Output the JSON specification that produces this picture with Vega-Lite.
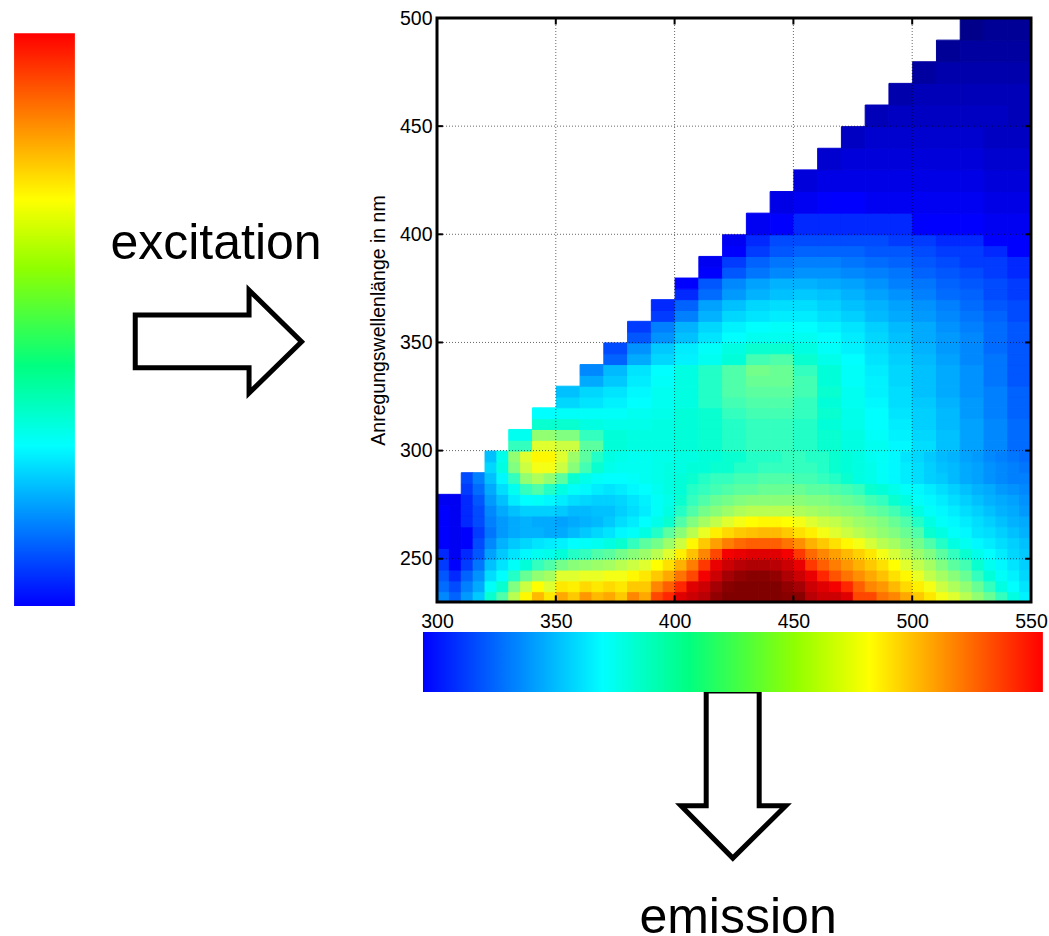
{"$schema":"https://vega.github.io/schema/vega-lite/v6.json","width":594,"height":584,"autosize":"none","padding":{"left":437,"top":18,"right":18,"bottom":334},"background":"white","config":{"view":{"stroke":null},"font":"Liberation Sans"},
"encoding":{"x":{"field":"x","type":"quantitative","scale":{"domain":[300,550],"nice":false,"zero":false},"axis":{"values":[300,350,400,450,500,550],"title":null,"grid":false,"domain":false,"ticks":false,"labelFontSize":19.5,"labelColor":"black","labelFont":"Liberation Sans","labelPadding":10,"labelFlush":false,"labelOverlap":false}},"y":{"field":"y","type":"quantitative","scale":{"domain":[230,500],"nice":false,"zero":false},"axis":{"values":[250,300,350,400,450,500],"title":"Anregungswellenlänge in nm","titleFontSize":19.5,"titleFontWeight":"normal","titleColor":"black","titleFont":"Liberation Sans","titleX":-49,"titleY":302,"grid":false,"domain":false,"ticks":false,"labelFontSize":19.5,"labelColor":"black","labelFont":"Liberation Sans","labelPadding":5,"labelFlush":false,"labelOverlap":false}}},
"layer":[
{"data":{"values":[
{"x":300,"y":230,"v":20},{"x":305,"y":230,"v":16},{"x":310,"y":230,"v":22},{"x":315,"y":230,"v":28},{"x":320,"y":230,"v":42},{"x":325,"y":230,"v":46},{"x":330,"y":230,"v":56},{"x":335,"y":230,"v":64},{"x":340,"y":230,"v":72},{"x":345,"y":230,"v":66},{"x":350,"y":230,"v":74},{"x":355,"y":230,"v":70},{"x":360,"y":230,"v":76},{"x":365,"y":230,"v":72},{"x":370,"y":230,"v":74},{"x":375,"y":230,"v":70},{"x":380,"y":230,"v":78},{"x":385,"y":230,"v":74},{"x":390,"y":230,"v":84},{"x":395,"y":230,"v":86},{"x":400,"y":230,"v":90},{"x":405,"y":230,"v":92},{"x":410,"y":230,"v":94},{"x":415,"y":230,"v":98},{"x":420,"y":230,"v":100},{"x":425,"y":230,"v":100},{"x":430,"y":230,"v":100},{"x":435,"y":230,"v":100},{"x":440,"y":230,"v":100},{"x":445,"y":230,"v":99},{"x":450,"y":230,"v":99},{"x":455,"y":230,"v":94},{"x":460,"y":230,"v":92},{"x":465,"y":230,"v":92},{"x":470,"y":230,"v":90},{"x":475,"y":230,"v":84},{"x":480,"y":230,"v":84},{"x":485,"y":230,"v":80},{"x":490,"y":230,"v":78},{"x":495,"y":230,"v":74},{"x":500,"y":230,"v":70},{"x":505,"y":230,"v":66},{"x":510,"y":230,"v":62},{"x":515,"y":230,"v":60},{"x":520,"y":230,"v":56},{"x":525,"y":230,"v":52},{"x":530,"y":230,"v":48},{"x":535,"y":230,"v":44},{"x":540,"y":230,"v":40},{"x":545,"y":230,"v":34},
{"x":300,"y":235,"v":17},{"x":305,"y":235,"v":14},{"x":310,"y":235,"v":19},{"x":315,"y":235,"v":24},{"x":320,"y":235,"v":37},{"x":325,"y":235,"v":42},{"x":330,"y":235,"v":50},{"x":335,"y":235,"v":58},{"x":340,"y":235,"v":63},{"x":345,"y":235,"v":60},{"x":350,"y":235,"v":66},{"x":355,"y":235,"v":65},{"x":360,"y":235,"v":68},{"x":365,"y":235,"v":66},{"x":370,"y":235,"v":68},{"x":375,"y":235,"v":66},{"x":380,"y":235,"v":70},{"x":385,"y":235,"v":70},{"x":390,"y":235,"v":78},{"x":395,"y":235,"v":82},{"x":400,"y":235,"v":86},{"x":405,"y":235,"v":90},{"x":410,"y":235,"v":92},{"x":415,"y":235,"v":96},{"x":420,"y":235,"v":99},{"x":425,"y":235,"v":100},{"x":430,"y":235,"v":100},{"x":435,"y":235,"v":100},{"x":440,"y":235,"v":100},{"x":445,"y":235,"v":98},{"x":450,"y":235,"v":96},{"x":455,"y":235,"v":92},{"x":460,"y":235,"v":90},{"x":465,"y":235,"v":88},{"x":470,"y":235,"v":86},{"x":475,"y":235,"v":82},{"x":480,"y":235,"v":78},{"x":485,"y":235,"v":76},{"x":490,"y":235,"v":72},{"x":495,"y":235,"v":68},{"x":500,"y":235,"v":65},{"x":505,"y":235,"v":62},{"x":510,"y":235,"v":58},{"x":515,"y":235,"v":55},{"x":520,"y":235,"v":52},{"x":525,"y":235,"v":48},{"x":530,"y":235,"v":44},{"x":535,"y":235,"v":40},{"x":540,"y":235,"v":36},{"x":545,"y":235,"v":32},
{"x":300,"y":240,"v":15},{"x":305,"y":240,"v":12},{"x":310,"y":240,"v":16},{"x":315,"y":240,"v":21},{"x":320,"y":240,"v":31},{"x":325,"y":240,"v":36},{"x":330,"y":240,"v":43},{"x":335,"y":240,"v":48},{"x":340,"y":240,"v":52},{"x":345,"y":240,"v":54},{"x":350,"y":240,"v":60},{"x":355,"y":240,"v":60},{"x":360,"y":240,"v":61},{"x":365,"y":240,"v":61},{"x":370,"y":240,"v":62},{"x":375,"y":240,"v":62},{"x":380,"y":240,"v":64},{"x":385,"y":240,"v":66},{"x":390,"y":240,"v":70},{"x":395,"y":240,"v":74},{"x":400,"y":240,"v":80},{"x":405,"y":240,"v":84},{"x":410,"y":240,"v":88},{"x":415,"y":240,"v":92},{"x":420,"y":240,"v":96},{"x":425,"y":240,"v":98},{"x":430,"y":240,"v":99},{"x":435,"y":240,"v":99},{"x":440,"y":240,"v":98},{"x":445,"y":240,"v":95},{"x":450,"y":240,"v":92},{"x":455,"y":240,"v":89},{"x":460,"y":240,"v":86},{"x":465,"y":240,"v":83},{"x":470,"y":240,"v":80},{"x":475,"y":240,"v":77},{"x":480,"y":240,"v":74},{"x":485,"y":240,"v":71},{"x":490,"y":240,"v":67},{"x":495,"y":240,"v":64},{"x":500,"y":240,"v":61},{"x":505,"y":240,"v":57},{"x":510,"y":240,"v":54},{"x":515,"y":240,"v":51},{"x":520,"y":240,"v":48},{"x":525,"y":240,"v":44},{"x":530,"y":240,"v":41},{"x":535,"y":240,"v":37},{"x":540,"y":240,"v":34},{"x":545,"y":240,"v":30},
{"x":300,"y":245,"v":13},{"x":305,"y":245,"v":11},{"x":310,"y":245,"v":13},{"x":315,"y":245,"v":18},{"x":320,"y":245,"v":27},{"x":325,"y":245,"v":32},{"x":330,"y":245,"v":37},{"x":335,"y":245,"v":41},{"x":340,"y":245,"v":44},{"x":345,"y":245,"v":46},{"x":350,"y":245,"v":49},{"x":355,"y":245,"v":51},{"x":360,"y":245,"v":52},{"x":365,"y":245,"v":53},{"x":370,"y":245,"v":54},{"x":375,"y":245,"v":56},{"x":380,"y":245,"v":58},{"x":385,"y":245,"v":60},{"x":390,"y":245,"v":63},{"x":395,"y":245,"v":67},{"x":400,"y":245,"v":73},{"x":405,"y":245,"v":79},{"x":410,"y":245,"v":85},{"x":415,"y":245,"v":89},{"x":420,"y":245,"v":92},{"x":425,"y":245,"v":94},{"x":430,"y":245,"v":95},{"x":435,"y":245,"v":95},{"x":440,"y":245,"v":94},{"x":445,"y":245,"v":92},{"x":450,"y":245,"v":89},{"x":455,"y":245,"v":85},{"x":460,"y":245,"v":82},{"x":465,"y":245,"v":79},{"x":470,"y":245,"v":76},{"x":475,"y":245,"v":73},{"x":480,"y":245,"v":70},{"x":485,"y":245,"v":67},{"x":490,"y":245,"v":63},{"x":495,"y":245,"v":60},{"x":500,"y":245,"v":57},{"x":505,"y":245,"v":54},{"x":510,"y":245,"v":50},{"x":515,"y":245,"v":47},{"x":520,"y":245,"v":45},{"x":525,"y":245,"v":42},{"x":530,"y":245,"v":38},{"x":535,"y":245,"v":35},{"x":540,"y":245,"v":32},{"x":545,"y":245,"v":29},
{"x":300,"y":250,"v":12},{"x":305,"y":250,"v":10},{"x":310,"y":250,"v":12},{"x":315,"y":250,"v":15},{"x":320,"y":250,"v":23},{"x":325,"y":250,"v":28},{"x":330,"y":250,"v":32},{"x":335,"y":250,"v":35},{"x":340,"y":250,"v":38},{"x":345,"y":250,"v":39},{"x":350,"y":250,"v":41},{"x":355,"y":250,"v":43},{"x":360,"y":250,"v":44},{"x":365,"y":250,"v":46},{"x":370,"y":250,"v":47},{"x":375,"y":250,"v":49},{"x":380,"y":250,"v":51},{"x":385,"y":250,"v":53},{"x":390,"y":250,"v":56},{"x":395,"y":250,"v":60},{"x":400,"y":250,"v":65},{"x":405,"y":250,"v":71},{"x":410,"y":250,"v":78},{"x":415,"y":250,"v":84},{"x":420,"y":250,"v":88},{"x":425,"y":250,"v":89},{"x":430,"y":250,"v":90},{"x":435,"y":250,"v":90},{"x":440,"y":250,"v":90},{"x":445,"y":250,"v":88},{"x":450,"y":250,"v":85},{"x":455,"y":250,"v":81},{"x":460,"y":250,"v":78},{"x":465,"y":250,"v":75},{"x":470,"y":250,"v":72},{"x":475,"y":250,"v":69},{"x":480,"y":250,"v":66},{"x":485,"y":250,"v":62},{"x":490,"y":250,"v":59},{"x":495,"y":250,"v":56},{"x":500,"y":250,"v":53},{"x":505,"y":250,"v":50},{"x":510,"y":250,"v":47},{"x":515,"y":250,"v":44},{"x":520,"y":250,"v":42},{"x":525,"y":250,"v":39},{"x":530,"y":250,"v":36},{"x":535,"y":250,"v":33},{"x":540,"y":250,"v":30},{"x":545,"y":250,"v":28},
{"x":300,"y":255,"v":11},{"x":305,"y":255,"v":10},{"x":310,"y":255,"v":11},{"x":315,"y":255,"v":14},{"x":320,"y":255,"v":20},{"x":325,"y":255,"v":25},{"x":330,"y":255,"v":28},{"x":335,"y":255,"v":30},{"x":340,"y":255,"v":32},{"x":345,"y":255,"v":33},{"x":350,"y":255,"v":34},{"x":355,"y":255,"v":36},{"x":360,"y":255,"v":37},{"x":365,"y":255,"v":38},{"x":370,"y":255,"v":40},{"x":375,"y":255,"v":42},{"x":380,"y":255,"v":44},{"x":385,"y":255,"v":47},{"x":390,"y":255,"v":49},{"x":395,"y":255,"v":53},{"x":400,"y":255,"v":58},{"x":405,"y":255,"v":64},{"x":410,"y":255,"v":70},{"x":415,"y":255,"v":75},{"x":420,"y":255,"v":79},{"x":425,"y":255,"v":81},{"x":430,"y":255,"v":82},{"x":435,"y":255,"v":82},{"x":440,"y":255,"v":82},{"x":445,"y":255,"v":80},{"x":450,"y":255,"v":77},{"x":455,"y":255,"v":73},{"x":460,"y":255,"v":70},{"x":465,"y":255,"v":67},{"x":470,"y":255,"v":64},{"x":475,"y":255,"v":62},{"x":480,"y":255,"v":59},{"x":485,"y":255,"v":56},{"x":490,"y":255,"v":54},{"x":495,"y":255,"v":51},{"x":500,"y":255,"v":49},{"x":505,"y":255,"v":46},{"x":510,"y":255,"v":43},{"x":515,"y":255,"v":40},{"x":520,"y":255,"v":38},{"x":525,"y":255,"v":35},{"x":530,"y":255,"v":33},{"x":535,"y":255,"v":31},{"x":540,"y":255,"v":29},{"x":545,"y":255,"v":27},
{"x":300,"y":260,"v":11},{"x":305,"y":260,"v":10},{"x":310,"y":260,"v":11},{"x":315,"y":260,"v":13},{"x":320,"y":260,"v":18},{"x":325,"y":260,"v":22},{"x":330,"y":260,"v":24},{"x":335,"y":260,"v":25},{"x":340,"y":260,"v":25},{"x":345,"y":260,"v":24},{"x":350,"y":260,"v":24},{"x":355,"y":260,"v":26},{"x":360,"y":260,"v":28},{"x":365,"y":260,"v":30},{"x":370,"y":260,"v":32},{"x":375,"y":260,"v":35},{"x":380,"y":260,"v":37},{"x":385,"y":260,"v":40},{"x":390,"y":260,"v":43},{"x":395,"y":260,"v":47},{"x":400,"y":260,"v":51},{"x":405,"y":260,"v":56},{"x":410,"y":260,"v":61},{"x":415,"y":260,"v":65},{"x":420,"y":260,"v":68},{"x":425,"y":260,"v":70},{"x":430,"y":260,"v":71},{"x":435,"y":260,"v":72},{"x":440,"y":260,"v":72},{"x":445,"y":260,"v":70},{"x":450,"y":260,"v":67},{"x":455,"y":260,"v":65},{"x":460,"y":260,"v":62},{"x":465,"y":260,"v":60},{"x":470,"y":260,"v":58},{"x":475,"y":260,"v":56},{"x":480,"y":260,"v":54},{"x":485,"y":260,"v":52},{"x":490,"y":260,"v":50},{"x":495,"y":260,"v":48},{"x":500,"y":260,"v":46},{"x":505,"y":260,"v":42},{"x":510,"y":260,"v":40},{"x":515,"y":260,"v":37},{"x":520,"y":260,"v":35},{"x":525,"y":260,"v":32},{"x":530,"y":260,"v":31},{"x":535,"y":260,"v":29},{"x":540,"y":260,"v":27},{"x":545,"y":260,"v":25},
{"x":300,"y":265,"v":11},{"x":305,"y":265,"v":10},{"x":310,"y":265,"v":12},{"x":315,"y":265,"v":14},{"x":320,"y":265,"v":19},{"x":325,"y":265,"v":22},{"x":330,"y":265,"v":24},{"x":335,"y":265,"v":25},{"x":340,"y":265,"v":24},{"x":345,"y":265,"v":24},{"x":350,"y":265,"v":23},{"x":355,"y":265,"v":24},{"x":360,"y":265,"v":25},{"x":365,"y":265,"v":26},{"x":370,"y":265,"v":28},{"x":375,"y":265,"v":31},{"x":380,"y":265,"v":33},{"x":385,"y":265,"v":36},{"x":390,"y":265,"v":39},{"x":395,"y":265,"v":42},{"x":400,"y":265,"v":46},{"x":405,"y":265,"v":50},{"x":410,"y":265,"v":54},{"x":415,"y":265,"v":57},{"x":420,"y":265,"v":60},{"x":425,"y":265,"v":62},{"x":430,"y":265,"v":63},{"x":435,"y":265,"v":64},{"x":440,"y":265,"v":64},{"x":445,"y":265,"v":63},{"x":450,"y":265,"v":62},{"x":455,"y":265,"v":60},{"x":460,"y":265,"v":58},{"x":465,"y":265,"v":57},{"x":470,"y":265,"v":55},{"x":475,"y":265,"v":53},{"x":480,"y":265,"v":52},{"x":485,"y":265,"v":50},{"x":490,"y":265,"v":48},{"x":495,"y":265,"v":46},{"x":500,"y":265,"v":43},{"x":505,"y":265,"v":40},{"x":510,"y":265,"v":37},{"x":515,"y":265,"v":35},{"x":520,"y":265,"v":33},{"x":525,"y":265,"v":31},{"x":530,"y":265,"v":29},{"x":535,"y":265,"v":27},{"x":540,"y":265,"v":25},{"x":545,"y":265,"v":24},
{"x":300,"y":270,"v":11},{"x":305,"y":270,"v":10},{"x":310,"y":270,"v":12},{"x":315,"y":270,"v":14},{"x":320,"y":270,"v":20},{"x":325,"y":270,"v":24},{"x":330,"y":270,"v":27},{"x":335,"y":270,"v":29},{"x":340,"y":270,"v":29},{"x":345,"y":270,"v":29},{"x":350,"y":270,"v":28},{"x":355,"y":270,"v":26},{"x":360,"y":270,"v":26},{"x":365,"y":270,"v":27},{"x":370,"y":270,"v":27},{"x":375,"y":270,"v":29},{"x":380,"y":270,"v":31},{"x":385,"y":270,"v":33},{"x":390,"y":270,"v":37},{"x":395,"y":270,"v":40},{"x":400,"y":270,"v":43},{"x":405,"y":270,"v":46},{"x":410,"y":270,"v":49},{"x":415,"y":270,"v":51},{"x":420,"y":270,"v":53},{"x":425,"y":270,"v":55},{"x":430,"y":270,"v":56},{"x":435,"y":270,"v":56},{"x":440,"y":270,"v":56},{"x":445,"y":270,"v":56},{"x":450,"y":270,"v":55},{"x":455,"y":270,"v":54},{"x":460,"y":270,"v":53},{"x":465,"y":270,"v":52},{"x":470,"y":270,"v":51},{"x":475,"y":270,"v":50},{"x":480,"y":270,"v":48},{"x":485,"y":270,"v":47},{"x":490,"y":270,"v":45},{"x":495,"y":270,"v":43},{"x":500,"y":270,"v":40},{"x":505,"y":270,"v":37},{"x":510,"y":270,"v":35},{"x":515,"y":270,"v":33},{"x":520,"y":270,"v":31},{"x":525,"y":270,"v":29},{"x":530,"y":270,"v":27},{"x":535,"y":270,"v":25},{"x":540,"y":270,"v":24},{"x":545,"y":270,"v":22},
{"x":300,"y":275,"v":10},{"x":305,"y":275,"v":10},{"x":310,"y":275,"v":12},{"x":315,"y":275,"v":15},{"x":320,"y":275,"v":22},{"x":325,"y":275,"v":27},{"x":330,"y":275,"v":33},{"x":335,"y":275,"v":36},{"x":340,"y":275,"v":37},{"x":345,"y":275,"v":35},{"x":350,"y":275,"v":33},{"x":355,"y":275,"v":31},{"x":360,"y":275,"v":30},{"x":365,"y":275,"v":29},{"x":370,"y":275,"v":29},{"x":375,"y":275,"v":30},{"x":380,"y":275,"v":32},{"x":385,"y":275,"v":34},{"x":390,"y":275,"v":37},{"x":395,"y":275,"v":39},{"x":400,"y":275,"v":42},{"x":405,"y":275,"v":44},{"x":410,"y":275,"v":46},{"x":415,"y":275,"v":48},{"x":420,"y":275,"v":49},{"x":425,"y":275,"v":50},{"x":430,"y":275,"v":51},{"x":435,"y":275,"v":51},{"x":440,"y":275,"v":51},{"x":445,"y":275,"v":51},{"x":450,"y":275,"v":51},{"x":455,"y":275,"v":50},{"x":460,"y":275,"v":50},{"x":465,"y":275,"v":49},{"x":470,"y":275,"v":48},{"x":475,"y":275,"v":47},{"x":480,"y":275,"v":45},{"x":485,"y":275,"v":44},{"x":490,"y":275,"v":42},{"x":495,"y":275,"v":40},{"x":500,"y":275,"v":37},{"x":505,"y":275,"v":35},{"x":510,"y":275,"v":33},{"x":515,"y":275,"v":31},{"x":520,"y":275,"v":29},{"x":525,"y":275,"v":27},{"x":530,"y":275,"v":25},{"x":535,"y":275,"v":24},{"x":540,"y":275,"v":23},{"x":545,"y":275,"v":21},
{"x":310,"y":280,"v":13},{"x":315,"y":280,"v":17},{"x":320,"y":280,"v":24},{"x":325,"y":280,"v":31},{"x":330,"y":280,"v":38},{"x":335,"y":280,"v":44},{"x":340,"y":280,"v":46},{"x":345,"y":280,"v":43},{"x":350,"y":280,"v":40},{"x":355,"y":280,"v":37},{"x":360,"y":280,"v":35},{"x":365,"y":280,"v":33},{"x":370,"y":280,"v":32},{"x":375,"y":280,"v":33},{"x":380,"y":280,"v":35},{"x":385,"y":280,"v":36},{"x":390,"y":280,"v":38},{"x":395,"y":280,"v":40},{"x":400,"y":280,"v":41},{"x":405,"y":280,"v":43},{"x":410,"y":280,"v":44},{"x":415,"y":280,"v":45},{"x":420,"y":280,"v":46},{"x":425,"y":280,"v":47},{"x":430,"y":280,"v":47},{"x":435,"y":280,"v":48},{"x":440,"y":280,"v":48},{"x":445,"y":280,"v":48},{"x":450,"y":280,"v":48},{"x":455,"y":280,"v":47},{"x":460,"y":280,"v":47},{"x":465,"y":280,"v":46},{"x":470,"y":280,"v":45},{"x":475,"y":280,"v":44},{"x":480,"y":280,"v":42},{"x":485,"y":280,"v":41},{"x":490,"y":280,"v":39},{"x":495,"y":280,"v":37},{"x":500,"y":280,"v":35},{"x":505,"y":280,"v":33},{"x":510,"y":280,"v":31},{"x":515,"y":280,"v":29},{"x":520,"y":280,"v":27},{"x":525,"y":280,"v":25},{"x":530,"y":280,"v":24},{"x":535,"y":280,"v":22},{"x":540,"y":280,"v":21},{"x":545,"y":280,"v":20},
{"x":310,"y":285,"v":14},{"x":315,"y":285,"v":19},{"x":320,"y":285,"v":27},{"x":325,"y":285,"v":35},{"x":330,"y":285,"v":44},{"x":335,"y":285,"v":52},{"x":340,"y":285,"v":55},{"x":345,"y":285,"v":52},{"x":350,"y":285,"v":47},{"x":355,"y":285,"v":42},{"x":360,"y":285,"v":39},{"x":365,"y":285,"v":37},{"x":370,"y":285,"v":36},{"x":375,"y":285,"v":36},{"x":380,"y":285,"v":37},{"x":385,"y":285,"v":38},{"x":390,"y":285,"v":39},{"x":395,"y":285,"v":40},{"x":400,"y":285,"v":41},{"x":405,"y":285,"v":42},{"x":410,"y":285,"v":43},{"x":415,"y":285,"v":44},{"x":420,"y":285,"v":44},{"x":425,"y":285,"v":45},{"x":430,"y":285,"v":45},{"x":435,"y":285,"v":46},{"x":440,"y":285,"v":46},{"x":445,"y":285,"v":46},{"x":450,"y":285,"v":45},{"x":455,"y":285,"v":45},{"x":460,"y":285,"v":44},{"x":465,"y":285,"v":43},{"x":470,"y":285,"v":42},{"x":475,"y":285,"v":40},{"x":480,"y":285,"v":39},{"x":485,"y":285,"v":37},{"x":490,"y":285,"v":35},{"x":495,"y":285,"v":33},{"x":500,"y":285,"v":31},{"x":505,"y":285,"v":29},{"x":510,"y":285,"v":28},{"x":515,"y":285,"v":26},{"x":520,"y":285,"v":24},{"x":525,"y":285,"v":23},{"x":530,"y":285,"v":21},{"x":535,"y":285,"v":20},{"x":540,"y":285,"v":19},{"x":545,"y":285,"v":19},
{"x":320,"y":290,"v":30},{"x":325,"y":290,"v":40},{"x":330,"y":290,"v":50},{"x":335,"y":290,"v":58},{"x":340,"y":290,"v":62},{"x":345,"y":290,"v":62},{"x":350,"y":290,"v":58},{"x":355,"y":290,"v":51},{"x":360,"y":290,"v":45},{"x":365,"y":290,"v":42},{"x":370,"y":290,"v":39},{"x":375,"y":290,"v":38},{"x":380,"y":290,"v":38},{"x":385,"y":290,"v":38},{"x":390,"y":290,"v":39},{"x":395,"y":290,"v":40},{"x":400,"y":290,"v":40},{"x":405,"y":290,"v":41},{"x":410,"y":290,"v":41},{"x":415,"y":290,"v":42},{"x":420,"y":290,"v":42},{"x":425,"y":290,"v":43},{"x":430,"y":290,"v":43},{"x":435,"y":290,"v":44},{"x":440,"y":290,"v":44},{"x":445,"y":290,"v":44},{"x":450,"y":290,"v":44},{"x":455,"y":290,"v":44},{"x":460,"y":290,"v":43},{"x":465,"y":290,"v":42},{"x":470,"y":290,"v":41},{"x":475,"y":290,"v":40},{"x":480,"y":290,"v":39},{"x":485,"y":290,"v":37},{"x":490,"y":290,"v":35},{"x":495,"y":290,"v":33},{"x":500,"y":290,"v":31},{"x":505,"y":290,"v":29},{"x":510,"y":290,"v":27},{"x":515,"y":290,"v":26},{"x":520,"y":290,"v":24},{"x":525,"y":290,"v":23},{"x":530,"y":290,"v":21},{"x":535,"y":290,"v":20},{"x":540,"y":290,"v":19},{"x":545,"y":290,"v":18},
{"x":320,"y":295,"v":27},{"x":325,"y":295,"v":39},{"x":330,"y":295,"v":52},{"x":335,"y":295,"v":60},{"x":340,"y":295,"v":64},{"x":345,"y":295,"v":64},{"x":350,"y":295,"v":60},{"x":355,"y":295,"v":53},{"x":360,"y":295,"v":47},{"x":365,"y":295,"v":43},{"x":370,"y":295,"v":40},{"x":375,"y":295,"v":39},{"x":380,"y":295,"v":38},{"x":385,"y":295,"v":38},{"x":390,"y":295,"v":39},{"x":395,"y":295,"v":39},{"x":400,"y":295,"v":40},{"x":405,"y":295,"v":40},{"x":410,"y":295,"v":41},{"x":415,"y":295,"v":41},{"x":420,"y":295,"v":42},{"x":425,"y":295,"v":42},{"x":430,"y":295,"v":43},{"x":435,"y":295,"v":43},{"x":440,"y":295,"v":43},{"x":445,"y":295,"v":44},{"x":450,"y":295,"v":44},{"x":455,"y":295,"v":43},{"x":460,"y":295,"v":43},{"x":465,"y":295,"v":42},{"x":470,"y":295,"v":41},{"x":475,"y":295,"v":40},{"x":480,"y":295,"v":38},{"x":485,"y":295,"v":37},{"x":490,"y":295,"v":35},{"x":495,"y":295,"v":32},{"x":500,"y":295,"v":30},{"x":505,"y":295,"v":28},{"x":510,"y":295,"v":26},{"x":515,"y":295,"v":25},{"x":520,"y":295,"v":23},{"x":525,"y":295,"v":22},{"x":530,"y":295,"v":20},{"x":535,"y":295,"v":19},{"x":540,"y":295,"v":18},{"x":545,"y":295,"v":17}
]},"mark":{"type":"rect","strokeWidth":1},"encoding":{"x":{"field":"x","type":"quantitative","bin":{"binned":true,"step":5}},"y":{"field":"y","type":"quantitative","bin":{"binned":true,"step":5}},"color":{"field":"v","type":"quantitative","legend":null,"scale":{"domain":[0,11,36,50,63,87,100],"range":["#000080","#0000ff","#00ffff","#80ff80","#ffff00","#ff0000","#800000"]}},"stroke":{"field":"v","type":"quantitative","legend":null,"scale":{"domain":[0,11,36,50,63,87,100],"range":["#000080","#0000ff","#00ffff","#80ff80","#ffff00","#ff0000","#800000"]}}}},
{"data":{"values":[
{"x":330,"y":300,"v":44},{"x":340,"y":300,"v":60},{"x":350,"y":300,"v":58},{"x":360,"y":300,"v":47},{"x":370,"y":300,"v":41},{"x":380,"y":300,"v":40},{"x":390,"y":300,"v":40},{"x":400,"y":300,"v":41},{"x":410,"y":300,"v":42},{"x":420,"y":300,"v":43},{"x":430,"y":300,"v":44},{"x":440,"y":300,"v":44},{"x":450,"y":300,"v":43},{"x":460,"y":300,"v":42},{"x":470,"y":300,"v":40},{"x":480,"y":300,"v":38},{"x":490,"y":300,"v":35},{"x":500,"y":300,"v":31},{"x":510,"y":300,"v":27},{"x":520,"y":300,"v":23},{"x":530,"y":300,"v":20},{"x":540,"y":300,"v":17},
{"x":330,"y":305,"v":38},{"x":340,"y":305,"v":52},{"x":350,"y":305,"v":50},{"x":360,"y":305,"v":44},{"x":370,"y":305,"v":41},{"x":380,"y":305,"v":40},{"x":390,"y":305,"v":40},{"x":400,"y":305,"v":41},{"x":410,"y":305,"v":42},{"x":420,"y":305,"v":43},{"x":430,"y":305,"v":44},{"x":440,"y":305,"v":44},{"x":450,"y":305,"v":43},{"x":460,"y":305,"v":42},{"x":470,"y":305,"v":40},{"x":480,"y":305,"v":37},{"x":490,"y":305,"v":34},{"x":500,"y":305,"v":30},{"x":510,"y":305,"v":27},{"x":520,"y":305,"v":23},{"x":530,"y":305,"v":20},{"x":540,"y":305,"v":17},
{"x":340,"y":310,"v":42},{"x":350,"y":310,"v":42},{"x":360,"y":310,"v":40},{"x":370,"y":310,"v":39},{"x":380,"y":310,"v":39},{"x":390,"y":310,"v":40},{"x":400,"y":310,"v":41},{"x":410,"y":310,"v":42},{"x":420,"y":310,"v":43},{"x":430,"y":310,"v":44},{"x":440,"y":310,"v":44},{"x":450,"y":310,"v":43},{"x":460,"y":310,"v":41},{"x":470,"y":310,"v":39},{"x":480,"y":310,"v":36},{"x":490,"y":310,"v":33},{"x":500,"y":310,"v":29},{"x":510,"y":310,"v":26},{"x":520,"y":310,"v":23},{"x":530,"y":310,"v":20},{"x":540,"y":310,"v":17},
{"x":340,"y":315,"v":36},{"x":350,"y":315,"v":37},{"x":360,"y":315,"v":37},{"x":370,"y":315,"v":37},{"x":380,"y":315,"v":38},{"x":390,"y":315,"v":39},{"x":400,"y":315,"v":41},{"x":410,"y":315,"v":42},{"x":420,"y":315,"v":44},{"x":430,"y":315,"v":45},{"x":440,"y":315,"v":45},{"x":450,"y":315,"v":44},{"x":460,"y":315,"v":42},{"x":470,"y":315,"v":39},{"x":480,"y":315,"v":36},{"x":490,"y":315,"v":32},{"x":500,"y":315,"v":29},{"x":510,"y":315,"v":26},{"x":520,"y":315,"v":22},{"x":530,"y":315,"v":19},{"x":540,"y":315,"v":16},
{"x":350,"y":320,"v":30},{"x":360,"y":320,"v":32},{"x":370,"y":320,"v":34},{"x":380,"y":320,"v":36},{"x":390,"y":320,"v":38},{"x":400,"y":320,"v":40},{"x":410,"y":320,"v":43},{"x":420,"y":320,"v":45},{"x":430,"y":320,"v":46},{"x":440,"y":320,"v":46},{"x":450,"y":320,"v":44},{"x":460,"y":320,"v":41},{"x":470,"y":320,"v":38},{"x":480,"y":320,"v":35},{"x":490,"y":320,"v":31},{"x":500,"y":320,"v":28},{"x":510,"y":320,"v":25},{"x":520,"y":320,"v":22},{"x":530,"y":320,"v":19},{"x":540,"y":320,"v":16},
{"x":350,"y":325,"v":27},{"x":360,"y":325,"v":30},{"x":370,"y":325,"v":32},{"x":380,"y":325,"v":35},{"x":390,"y":325,"v":38},{"x":400,"y":325,"v":40},{"x":410,"y":325,"v":43},{"x":420,"y":325,"v":46},{"x":430,"y":325,"v":47},{"x":440,"y":325,"v":47},{"x":450,"y":325,"v":45},{"x":460,"y":325,"v":42},{"x":470,"y":325,"v":38},{"x":480,"y":325,"v":34},{"x":490,"y":325,"v":31},{"x":500,"y":325,"v":27},{"x":510,"y":325,"v":24},{"x":520,"y":325,"v":21},{"x":530,"y":325,"v":19},{"x":540,"y":325,"v":16},
{"x":360,"y":330,"v":24},{"x":370,"y":330,"v":28},{"x":380,"y":330,"v":33},{"x":390,"y":330,"v":37},{"x":400,"y":330,"v":40},{"x":410,"y":330,"v":43},{"x":420,"y":330,"v":46},{"x":430,"y":330,"v":48},{"x":440,"y":330,"v":48},{"x":450,"y":330,"v":45},{"x":460,"y":330,"v":41},{"x":470,"y":330,"v":37},{"x":480,"y":330,"v":34},{"x":490,"y":330,"v":30},{"x":500,"y":330,"v":27},{"x":510,"y":330,"v":24},{"x":520,"y":330,"v":21},{"x":530,"y":330,"v":18},{"x":540,"y":330,"v":15},
{"x":360,"y":335,"v":20},{"x":370,"y":335,"v":26},{"x":380,"y":335,"v":32},{"x":390,"y":335,"v":36},{"x":400,"y":335,"v":40},{"x":410,"y":335,"v":43},{"x":420,"y":335,"v":46},{"x":430,"y":335,"v":49},{"x":440,"y":335,"v":48},{"x":450,"y":335,"v":44},{"x":460,"y":335,"v":41},{"x":470,"y":335,"v":37},{"x":480,"y":335,"v":33},{"x":490,"y":335,"v":30},{"x":500,"y":335,"v":27},{"x":510,"y":335,"v":24},{"x":520,"y":335,"v":21},{"x":530,"y":335,"v":18},{"x":540,"y":335,"v":15},
{"x":370,"y":340,"v":16},{"x":380,"y":340,"v":24},{"x":390,"y":340,"v":30},{"x":400,"y":340,"v":34},{"x":410,"y":340,"v":38},{"x":420,"y":340,"v":41},{"x":430,"y":340,"v":45},{"x":440,"y":340,"v":46},{"x":450,"y":340,"v":42},{"x":460,"y":340,"v":39},{"x":470,"y":340,"v":36},{"x":480,"y":340,"v":32},{"x":490,"y":340,"v":29},{"x":500,"y":340,"v":26},{"x":510,"y":340,"v":23},{"x":520,"y":340,"v":20},{"x":530,"y":340,"v":18},{"x":540,"y":340,"v":15},
{"x":370,"y":345,"v":14},{"x":380,"y":345,"v":21},{"x":390,"y":345,"v":28},{"x":400,"y":345,"v":33},{"x":410,"y":345,"v":37},{"x":420,"y":345,"v":40},{"x":430,"y":345,"v":42},{"x":440,"y":345,"v":42},{"x":450,"y":345,"v":40},{"x":460,"y":345,"v":37},{"x":470,"y":345,"v":34},{"x":480,"y":345,"v":31},{"x":490,"y":345,"v":28},{"x":500,"y":345,"v":25},{"x":510,"y":345,"v":22},{"x":520,"y":345,"v":20},{"x":530,"y":345,"v":17},{"x":540,"y":345,"v":15},
{"x":380,"y":350,"v":15},{"x":390,"y":350,"v":21},{"x":400,"y":350,"v":27},{"x":410,"y":350,"v":32},{"x":420,"y":350,"v":36},{"x":430,"y":350,"v":38},{"x":440,"y":350,"v":38},{"x":450,"y":350,"v":38},{"x":460,"y":350,"v":36},{"x":470,"y":350,"v":33},{"x":480,"y":350,"v":30},{"x":490,"y":350,"v":27},{"x":500,"y":350,"v":24},{"x":510,"y":350,"v":22},{"x":520,"y":350,"v":20},{"x":530,"y":350,"v":17},{"x":540,"y":350,"v":15},
{"x":380,"y":355,"v":13},{"x":390,"y":355,"v":19},{"x":400,"y":355,"v":25},{"x":410,"y":355,"v":30},{"x":420,"y":355,"v":34},{"x":430,"y":355,"v":36},{"x":440,"y":355,"v":37},{"x":450,"y":355,"v":36},{"x":460,"y":355,"v":34},{"x":470,"y":355,"v":32},{"x":480,"y":355,"v":29},{"x":490,"y":355,"v":26},{"x":500,"y":355,"v":24},{"x":510,"y":355,"v":21},{"x":520,"y":355,"v":19},{"x":530,"y":355,"v":17},{"x":540,"y":355,"v":15},
{"x":390,"y":360,"v":13},{"x":400,"y":360,"v":19},{"x":410,"y":360,"v":25},{"x":420,"y":360,"v":30},{"x":430,"y":360,"v":32},{"x":440,"y":360,"v":33},{"x":450,"y":360,"v":33},{"x":460,"y":360,"v":31},{"x":470,"y":360,"v":29},{"x":480,"y":360,"v":26},{"x":490,"y":360,"v":24},{"x":500,"y":360,"v":22},{"x":510,"y":360,"v":20},{"x":520,"y":360,"v":18},{"x":530,"y":360,"v":16},{"x":540,"y":360,"v":14},
{"x":390,"y":365,"v":12},{"x":400,"y":365,"v":16},{"x":410,"y":365,"v":23},{"x":420,"y":365,"v":27},{"x":430,"y":365,"v":30},{"x":440,"y":365,"v":31},{"x":450,"y":365,"v":31},{"x":460,"y":365,"v":29},{"x":470,"y":365,"v":27},{"x":480,"y":365,"v":25},{"x":490,"y":365,"v":23},{"x":500,"y":365,"v":21},{"x":510,"y":365,"v":19},{"x":520,"y":365,"v":17},{"x":530,"y":365,"v":15},{"x":540,"y":365,"v":14},
{"x":400,"y":370,"v":12},{"x":410,"y":370,"v":17},{"x":420,"y":370,"v":22},{"x":430,"y":370,"v":25},{"x":440,"y":370,"v":27},{"x":450,"y":370,"v":28},{"x":460,"y":370,"v":27},{"x":470,"y":370,"v":25},{"x":480,"y":370,"v":23},{"x":490,"y":370,"v":21},{"x":500,"y":370,"v":19},{"x":510,"y":370,"v":17},{"x":520,"y":370,"v":16},{"x":530,"y":370,"v":14},{"x":540,"y":370,"v":13},
{"x":400,"y":375,"v":11},{"x":410,"y":375,"v":15},{"x":420,"y":375,"v":20},{"x":430,"y":375,"v":23},{"x":440,"y":375,"v":25},{"x":450,"y":375,"v":25},{"x":460,"y":375,"v":24},{"x":470,"y":375,"v":23},{"x":480,"y":375,"v":21},{"x":490,"y":375,"v":19},{"x":500,"y":375,"v":18},{"x":510,"y":375,"v":16},{"x":520,"y":375,"v":15},{"x":530,"y":375,"v":14},{"x":540,"y":375,"v":13},
{"x":410,"y":380,"v":11},{"x":420,"y":380,"v":15},{"x":430,"y":380,"v":18},{"x":440,"y":380,"v":20},{"x":450,"y":380,"v":21},{"x":460,"y":380,"v":21},{"x":470,"y":380,"v":20},{"x":480,"y":380,"v":19},{"x":490,"y":380,"v":18},{"x":500,"y":380,"v":16},{"x":510,"y":380,"v":15},{"x":520,"y":380,"v":14},{"x":530,"y":380,"v":13},{"x":540,"y":380,"v":12},
{"x":410,"y":385,"v":10},{"x":420,"y":385,"v":13},{"x":430,"y":385,"v":16},{"x":440,"y":385,"v":18},{"x":450,"y":385,"v":19},{"x":460,"y":385,"v":19},{"x":470,"y":385,"v":18},{"x":480,"y":385,"v":17},{"x":490,"y":385,"v":16},{"x":500,"y":385,"v":15},{"x":510,"y":385,"v":14},{"x":520,"y":385,"v":13},{"x":530,"y":385,"v":13},{"x":540,"y":385,"v":12},
{"x":420,"y":390,"v":11},{"x":430,"y":390,"v":13},{"x":440,"y":390,"v":15},{"x":450,"y":390,"v":16},{"x":460,"y":390,"v":16},{"x":470,"y":390,"v":16},{"x":480,"y":390,"v":15},{"x":490,"y":390,"v":15},{"x":500,"y":390,"v":14},{"x":510,"y":390,"v":13},{"x":520,"y":390,"v":13},{"x":530,"y":390,"v":12},{"x":540,"y":390,"v":11},
{"x":420,"y":395,"v":10},{"x":430,"y":395,"v":12},{"x":440,"y":395,"v":14},{"x":450,"y":395,"v":14},{"x":460,"y":395,"v":14},{"x":470,"y":395,"v":14},{"x":480,"y":395,"v":14},{"x":490,"y":395,"v":13},{"x":500,"y":395,"v":13},{"x":510,"y":395,"v":12},{"x":520,"y":395,"v":12},{"x":530,"y":395,"v":11},{"x":540,"y":395,"v":11}
]},"mark":{"type":"rect","strokeWidth":1},"encoding":{"x":{"field":"x","type":"quantitative","bin":{"binned":true,"step":10}},"y":{"field":"y","type":"quantitative","bin":{"binned":true,"step":5}},"color":{"field":"v","type":"quantitative","legend":null},"stroke":{"field":"v","type":"quantitative","legend":null}}},
{"data":{"values":[
{"x":430,"y":400,"v":10},{"x":440,"y":400,"v":11},{"x":450,"y":400,"v":12},{"x":460,"y":400,"v":12},{"x":470,"y":400,"v":12},{"x":480,"y":400,"v":12},{"x":490,"y":400,"v":12},{"x":500,"y":400,"v":11},{"x":510,"y":400,"v":11},{"x":520,"y":400,"v":11},{"x":530,"y":400,"v":10},{"x":540,"y":400,"v":10},
{"x":440,"y":410,"v":9},{"x":450,"y":410,"v":10},{"x":460,"y":410,"v":11},{"x":470,"y":410,"v":11},{"x":480,"y":410,"v":10},{"x":490,"y":410,"v":10},{"x":500,"y":410,"v":10},{"x":510,"y":410,"v":10},{"x":520,"y":410,"v":10},{"x":530,"y":410,"v":9},{"x":540,"y":410,"v":9},
{"x":450,"y":420,"v":8},{"x":460,"y":420,"v":9},{"x":470,"y":420,"v":9},{"x":480,"y":420,"v":9},{"x":490,"y":420,"v":9},{"x":500,"y":420,"v":9},{"x":510,"y":420,"v":9},{"x":520,"y":420,"v":9},{"x":530,"y":420,"v":8},{"x":540,"y":420,"v":8},
{"x":460,"y":430,"v":7},{"x":470,"y":430,"v":8},{"x":480,"y":430,"v":8},{"x":490,"y":430,"v":8},{"x":500,"y":430,"v":8},{"x":510,"y":430,"v":8},{"x":520,"y":430,"v":8},{"x":530,"y":430,"v":7},{"x":540,"y":430,"v":7},
{"x":470,"y":440,"v":6},{"x":480,"y":440,"v":7},{"x":490,"y":440,"v":7},{"x":500,"y":440,"v":7},{"x":510,"y":440,"v":7},{"x":520,"y":440,"v":7},{"x":530,"y":440,"v":6},{"x":540,"y":440,"v":6},
{"x":480,"y":450,"v":5},{"x":490,"y":450,"v":6},{"x":500,"y":450,"v":6},{"x":510,"y":450,"v":6},{"x":520,"y":450,"v":6},{"x":530,"y":450,"v":6},{"x":540,"y":450,"v":5},
{"x":490,"y":460,"v":4},{"x":500,"y":460,"v":5},{"x":510,"y":460,"v":5},{"x":520,"y":460,"v":5},{"x":530,"y":460,"v":5},{"x":540,"y":460,"v":5},
{"x":500,"y":470,"v":3},{"x":510,"y":470,"v":4},{"x":520,"y":470,"v":4},{"x":530,"y":470,"v":4},{"x":540,"y":470,"v":4},
{"x":510,"y":480,"v":2},{"x":520,"y":480,"v":3},{"x":530,"y":480,"v":3},{"x":540,"y":480,"v":3},
{"x":520,"y":490,"v":1},{"x":530,"y":490,"v":2},{"x":540,"y":490,"v":2}
]},"mark":{"type":"rect","strokeWidth":1},"encoding":{"x":{"field":"x","type":"quantitative","bin":{"binned":true,"step":10}},"y":{"field":"y","type":"quantitative","bin":{"binned":true,"step":10}},"color":{"field":"v","type":"quantitative","legend":null},"stroke":{"field":"v","type":"quantitative","legend":null}}},
{"data":{"values":[{"x":350,"x2":350,"y":230,"y2":500},{"x":400,"x2":400,"y":230,"y2":500},{"x":450,"x2":450,"y":230,"y2":500},{"x":500,"x2":500,"y":230,"y2":500},{"x":300,"x2":550,"y":250,"y2":250},{"x":300,"x2":550,"y":300,"y2":300},{"x":300,"x2":550,"y":350,"y2":350},{"x":300,"x2":550,"y":400,"y2":400},{"x":300,"x2":550,"y":450,"y2":450}]},"mark":{"type":"rule","color":"black","strokeWidth":1,"strokeDash":[1,2],"opacity":0.6},"encoding":{"x2":{"field":"x2"},"y2":{"field":"y2"}}},
{"data":{"values":[{"x":350,"x2":350,"y":230,"y2":233},{"x":400,"x2":400,"y":230,"y2":233},{"x":450,"x2":450,"y":230,"y2":233},{"x":500,"x2":500,"y":230,"y2":233},{"x":350,"x2":350,"y":497,"y2":500},{"x":400,"x2":400,"y":497,"y2":500},{"x":450,"x2":450,"y":497,"y2":500},{"x":500,"x2":500,"y":497,"y2":500},{"x":300,"x2":302.5,"y":250,"y2":250},{"x":300,"x2":302.5,"y":300,"y2":300},{"x":300,"x2":302.5,"y":350,"y2":350},{"x":300,"x2":302.5,"y":400,"y2":400},{"x":300,"x2":302.5,"y":450,"y2":450},{"x":547.5,"x2":550,"y":250,"y2":250},{"x":547.5,"x2":550,"y":300,"y2":300},{"x":547.5,"x2":550,"y":350,"y2":350},{"x":547.5,"x2":550,"y":400,"y2":400},{"x":547.5,"x2":550,"y":450,"y2":450}]},"mark":{"type":"rule","color":"black","strokeWidth":2},"encoding":{"x2":{"field":"x2"},"y2":{"field":"y2"}}},
{"data":{"values":[{"x":300,"x2":550,"y":230,"y2":500}]},"mark":{"type":"rect","fill":null,"fillOpacity":0,"stroke":"black","strokeWidth":3},"encoding":{"x2":{"field":"x2"},"y2":{"field":"y2"}}},
{"data":{"values":[{"x":173,"y":362.7,"a":"r","o":1},{"x":220.9,"y":362.7,"a":"r","o":2},{"x":220.9,"y":374.2,"a":"r","o":3},{"x":243,"y":350.3,"a":"r","o":4},{"x":220.9,"y":326.6,"a":"r","o":5},{"x":220.9,"y":338.3,"a":"r","o":6},{"x":173,"y":338.3,"a":"r","o":7},{"x":173,"y":362.7,"a":"r","o":8},{"x":413.3,"y":188.9,"a":"d","o":1},{"x":435.6,"y":188.9,"a":"d","o":2},{"x":435.6,"y":135.8,"a":"d","o":3},{"x":446.8,"y":135.8,"a":"d","o":4},{"x":424.5,"y":111.6,"a":"d","o":5},{"x":402.7,"y":135.8,"a":"d","o":6},{"x":413.3,"y":135.8,"a":"d","o":7},{"x":413.3,"y":188.9,"a":"d","o":8}]},"mark":{"type":"line","color":"black","strokeWidth":5,"strokeJoin":"miter","strokeMiterLimit":10,"strokeCap":"square","clip":false},"encoding":{"detail":{"field":"a"},"order":{"field":"o"}}},
{"data":{"values":[{"x":294.1,"x2":555,"y":188.4,"y2":216.1}]},"mark":{"type":"rect","color":{"gradient":"linear","x1":0,"y1":0,"x2":1,"y2":0,"stops":[{"offset":0,"color":"#0000ff"},{"offset":0.29,"color":"#00ffff"},{"offset":0.43,"color":"#00ff80"},{"offset":0.6,"color":"#90ff00"},{"offset":0.72,"color":"#ffff00"},{"offset":1,"color":"#ff0000"}]}},"encoding":{"x2":{"field":"x2"},"y2":{"field":"y2"}}},
{"data":{"values":[{"x":122,"x2":147.6,"y":228.15,"y2":493}]},"mark":{"type":"rect","color":{"gradient":"linear","x1":0,"y1":1,"x2":0,"y2":0,"stops":[{"offset":0,"color":"#0000ff"},{"offset":0.28,"color":"#00ffff"},{"offset":0.42,"color":"#00ff80"},{"offset":0.59,"color":"#90ff00"},{"offset":0.71,"color":"#ffff00"},{"offset":1,"color":"#ff0000"}]}},"encoding":{"x2":{"field":"x2"},"y2":{"field":"y2"}}},
{"data":{"values":[{"x":207,"y":388.5,"t":"excitation"},{"x":426.7,"y":77,"t":"emission"}]},"mark":{"type":"text","fontSize":50,"font":"Liberation Sans","color":"black","align":"center","baseline":"alphabetic"},"encoding":{"text":{"field":"t"}}}
]}
